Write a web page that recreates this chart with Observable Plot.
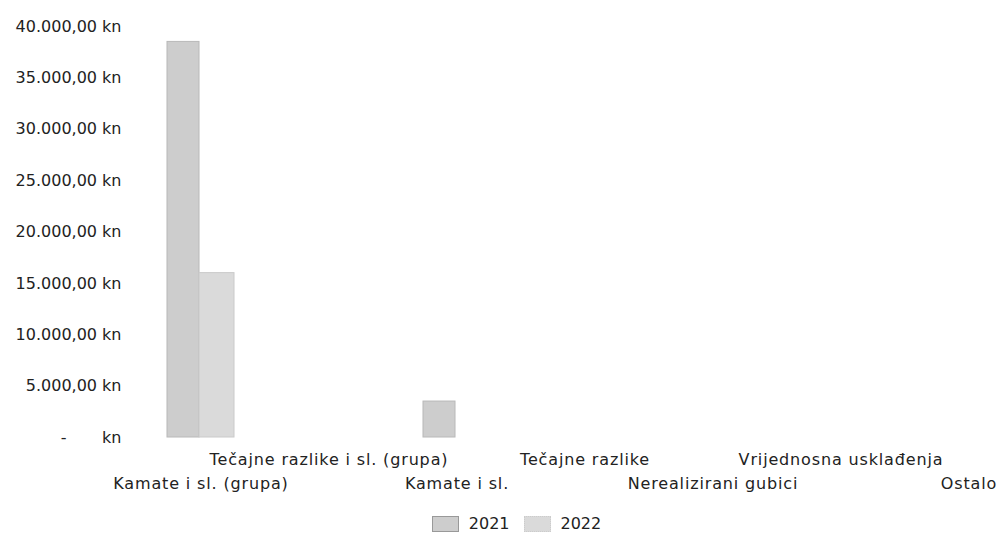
<!DOCTYPE html>
<html><head><meta charset="utf-8">
<script src="https://cdn.jsdelivr.net/npm/d3@7"></script>
<script src="https://cdn.jsdelivr.net/npm/@observablehq/plot@0.6"></script>
<style>
body{margin:0;background:#fff;font-family:"DejaVu Sans",sans-serif;color:#222;}
#legend{display:flex;justify-content:center;align-items:center;font-size:16px;margin-top:9px;padding-left:36px;}
.sw{display:inline-block;width:27px;height:16px;margin-right:10px;box-sizing:border-box;}
.item{display:flex;align-items:center;margin:0 7px;}
g[aria-label="x-axis tick label"] text{letter-spacing:0.85px;}
</style></head><body><div id="chart"></div>
<script>
const categories = ["Kamate i sl. (grupa)","Tečajne razlike i sl. (grupa)","Kamate i sl.","Tečajne razlike","Nerealizirani gubici","Vrijednosna usklađenja","Ostalo"];
const series = ["2021","2022"];
const values2021 = [38500,0,3500,0,0,0,0];
const values2022 = [16000,0,0,0,0,0,0];
const yTicks = [0,5000,10000,15000,20000,25000,30000,35000,40000];
const colors = ["#cdcdcd","#dadada"];

const loc = d3.formatLocale({decimal:",",thousands:".",grouping:[3],currency:["",""]});
const f = loc.format(",.2f");
const fmt = v => v === 0 ? "-\u00a0\u00a0\u00a0\u00a0\u00a0\u00a0\u00a0kn" : f(v) + " kn";

const d21 = categories.map((c,i)=>({cat:c, value:values2021[i]}));
const d22 = categories.map((c,i)=>({cat:c, value:values2022[i]}));

const chart = Plot.plot({
  width: 997,
  height: 505,
  marginLeft: 134,
  marginRight: 0,
  marginTop: 26,
  marginBottom: 68,
  style: {fontFamily: "DejaVu Sans", fontSize: "16px", color: "#222", background: "#fff"},
  x: {type: "band", domain: categories, range: [104, 1065], padding: 0.48},
  y: {domain: [0, 40000], ticks: yTicks},
  marks: [
    Plot.barY(d21, {x: "cat", y: "value", fill: colors[0], stroke: "#b8b8b8", strokeWidth: 1, insetRight: 35}),
    Plot.barY(d22, {x: "cat", y: "value", fill: colors[1], stroke: "#cacaca", strokeWidth: 1, insetLeft: 32}),
    Plot.axisY(yTicks, {tickSize: 0, tickPadding: 13, tickFormat: fmt, label: null}),
    Plot.axisX(categories.filter((d,i)=>i%2===1), {tickSize: 0, tickPadding: 16, label: null}),
    Plot.axisX(categories.filter((d,i)=>i%2===0), {tickSize: 0, tickPadding: 40, label: null})
  ]
});
document.getElementById("chart").appendChild(chart);

const lg = document.createElement("div");
lg.id = "legend";
series.forEach((s,i)=>{
  const it = document.createElement("div"); it.className = "item";
  const sw = document.createElement("span"); sw.className = "sw";
  sw.style.background = colors[i];
  sw.style.border = i === 0 ? "1px solid #999" : "1px dotted #ccc";
  it.appendChild(sw);
  const t = document.createElement("span"); t.textContent = s;
  it.appendChild(t);
  lg.appendChild(it);
});
document.body.appendChild(lg);
</script></body></html>
